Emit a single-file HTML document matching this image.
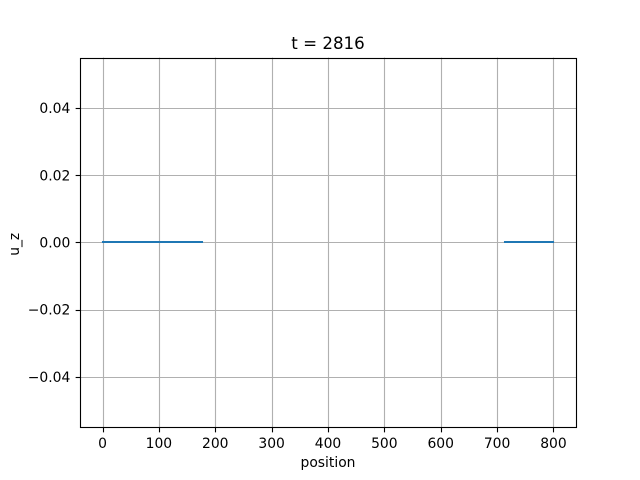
<!DOCTYPE html>
<html>
<head>
<meta charset="utf-8">
<title>t = 2816</title>
<style>
html,body{margin:0;padding:0;background:#fff;width:640px;height:480px;overflow:hidden}
svg{display:block}
text{font-family:"DejaVu Sans",sans-serif;fill:#000}
</style>
</head>
<body>
<svg id="chart" width="640" height="480" viewBox="0 0 640 480" xmlns="http://www.w3.org/2000/svg">
<rect x="0" y="0" width="640" height="480" fill="#fff"/>
<g id="grid"></g>
<g id="series"></g>
<g id="ticks"></g>
<rect x="80.5" y="58.5" width="496" height="369" fill="none" stroke="#000" stroke-width="1.11"/>
<text x="328" y="49" font-size="16.67" text-anchor="middle">t = 2816</text>
<text x="328" y="467" font-size="13.89" text-anchor="middle">position</text>
<text x="0" y="0" font-size="13.89" text-anchor="middle" transform="translate(19.2 244.3) rotate(-90)">u_z</text>
</svg>
<script>
const xTickValues = [0, 100, 200, 300, 400, 500, 600, 700, 800];
const yTickValues = [-0.04, -0.02, 0, 0.02, 0.04];
const yTickLabels = ['\u22120.04', '\u22120.02', '0.00', '0.02', '0.04'];
const positions = [0, 177, 445, 714, 800];
const uZ = [0, 0, null, 0, 0];

const SVGNS = 'http://www.w3.org/2000/svg';
const plot = { left: 80, right: 576, top: 57.6, bottom: 427.2 };
const xDomain = [-40, 840];
const yDomain = [-0.055, 0.055];

function xScale(v) {
  return plot.left + (v - xDomain[0]) / (xDomain[1] - xDomain[0]) * (plot.right - plot.left);
}
function yScale(v) {
  return plot.bottom - (v - yDomain[0]) / (yDomain[1] - yDomain[0]) * (plot.bottom - plot.top);
}
function snapOdd(p) {
  return Math.floor(p + 0.5) + 0.5;
}
function snapEven(p) {
  return Math.floor(p + 0.5);
}
function make(tag, attrs, parent) {
  const el = document.createElementNS(SVGNS, tag);
  for (const k in attrs) el.setAttribute(k, attrs[k]);
  parent.appendChild(el);
  return el;
}

const gridGroup = document.getElementById('grid');
const tickGroup = document.getElementById('ticks');
const seriesGroup = document.getElementById('series');

xTickValues.forEach(function (v) {
  const x = snapOdd(xScale(v));
  const gridLine = make('line', { x1: x, x2: x, y1: plot.top, y2: plot.bottom, stroke: '#b0b0b0', 'stroke-width': 1.11 }, gridGroup);
  
  
  const tick = make('line', { x1: x, x2: x, y1: 427.5, y2: 432.36, stroke: '#000', 'stroke-width': 1.11 }, tickGroup);
  
  
  const label = make('text', { x: xScale(v), y: 448, 'font-size': 13.89, 'text-anchor': 'middle' }, tickGroup);
  
  
  label.textContent = String(v);
});

yTickValues.forEach(function (v, i) {
  const y = snapOdd(yScale(v));
  const gridLine = make('line', { x1: plot.left, x2: plot.right, y1: y, y2: y, stroke: '#b0b0b0', 'stroke-width': 1.11 }, gridGroup);
  
  
  const tick = make('line', { x1: 75.64, x2: 80.5, y1: y, y2: y, stroke: '#000', 'stroke-width': 1.11 }, tickGroup);
  
  
  const label = make('text', { x: 70.3, y: yScale(v) + 5.1, 'font-size': 13.89, 'text-anchor': 'end' }, tickGroup);
  
  
  label.textContent = yTickLabels[i];
});

let pathData = '';
let penDown = false;
positions.forEach(function (p, i) {
  if (uZ[i] === null) {
    penDown = false;
    return;
  }
  pathData += (penDown ? 'L' : 'M') + snapEven(xScale(p)) + ' ' + snapEven(yScale(uZ[i]));
  penDown = true;
});
const seriesLine = make('path', { d: pathData, fill: 'none', stroke: '#1f77b4', 'stroke-width': 2.08, 'stroke-linecap': 'square' }, seriesGroup);


</script>
</body>
</html>
